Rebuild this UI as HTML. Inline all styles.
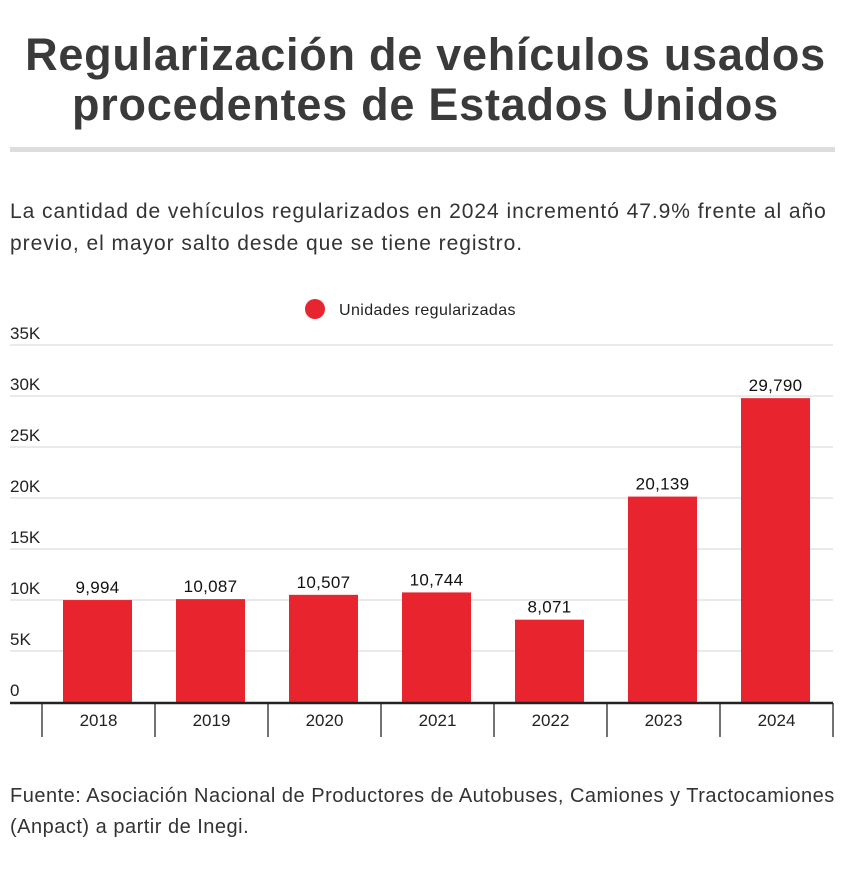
<!DOCTYPE html>
<html><head><meta charset="utf-8"><style>
body{margin:0;background:#fff;width:851px;height:893px;overflow:hidden;font-family:"Liberation Sans",sans-serif;color:#333}
h1{position:absolute;left:0;width:851px;top:30px;margin:0;text-align:center;font-size:45px;line-height:50px;font-weight:bold;color:#3a3a3a;letter-spacing:0.75px}
.rule{position:absolute;left:10px;top:147px;width:825px;height:5px;background:#ddd}
.sub{position:absolute;left:10px;top:196px;width:840px;font-size:21px;line-height:32px;color:#333;letter-spacing:0.95px}
.src{position:absolute;left:10px;top:781px;width:840px;font-size:20px;line-height:31px;color:#333;letter-spacing:0.5px}
</style></head><body>
<h1>Regularización de vehículos usados procedentes de Estados Unidos</h1>
<div class="rule"></div>
<div class="sub">La cantidad de vehículos regularizados en 2024 incrementó 47.9% frente al año<br>previo, el mayor salto desde que se tiene registro.</div>
<svg id="chart" width="851" height="893" style="position:absolute;left:0;top:0"></svg>
<div class="src">Fuente: Asociación Nacional de Productores de Autobuses, Camiones y Tractocamiones<br>(Anpact) a partir de Inegi.</div>
<script>
const categories=["2018","2019","2020","2021","2022","2023","2024"];
const values=[9994,10087,10507,10744,8071,20139,29790];
const valueLabels=["9,994","10,087","10,507","10,744","8,071","20,139","29,790"];
const ticks=[0,5000,10000,15000,20000,25000,30000,35000];
const tickLabels=["0","5K","10K","15K","20K","25K","30K","35K"];
const svg=document.getElementById('chart');
const NS='http://www.w3.org/2000/svg';
const y0=702,pxPer=(702-600)/10000;
function y(v){return y0-v*pxPer;}
const left=42,band=113;
function x(i){return left+i*band;}
function mk(t,a,txt){const e=document.createElementNS(NS,t);for(const k in a)e.setAttribute(k,a[k]);if(txt!==undefined)e.textContent=txt;svg.appendChild(e);return e;}
ticks.forEach((t,i)=>{
 if(t>0){const g=mk('line',{x1:10,x2:833,y1:y(t),y2:y(t),stroke:'#d6d6d6','stroke-width':1});
 
 }
 const l=mk('text',{x:10,y:y(t)-6,'font-size':17,fill:'#222'},tickLabels[i]);
 
 
});
categories.forEach((c,i)=>{
 const b=mk('rect',{x:x(i)+21,y:y(values[i]),width:69,height:y0-y(values[i]),fill:'#e8242f'});
 
 
 const v=mk('text',{x:x(i)+55.5,y:y(values[i])-7,'font-size':17,'text-anchor':'middle',fill:'#111','letter-spacing':0.3},valueLabels[i]);
 
 
 const xl=mk('text',{x:x(i)+56.5,y:726,'font-size':17,'text-anchor':'middle',fill:'#222'},c);
 
 
});
for(let i=0;i<=categories.length;i++){
 const tk=mk('line',{x1:x(i),x2:x(i),y1:703,y2:737,stroke:'#444','stroke-width':1.5});
 
 
}
const ax=mk('line',{x1:10,x2:833,y1:703,y2:703,stroke:'#222','stroke-width':2.5});


const ld=mk('circle',{cx:315,cy:309,r:10,fill:'#e8242f'});


const lt=mk('text',{x:339,y:315,'font-size':16,fill:'#222','letter-spacing':0.4},'Unidades regularizadas');


</script>
</body></html>
